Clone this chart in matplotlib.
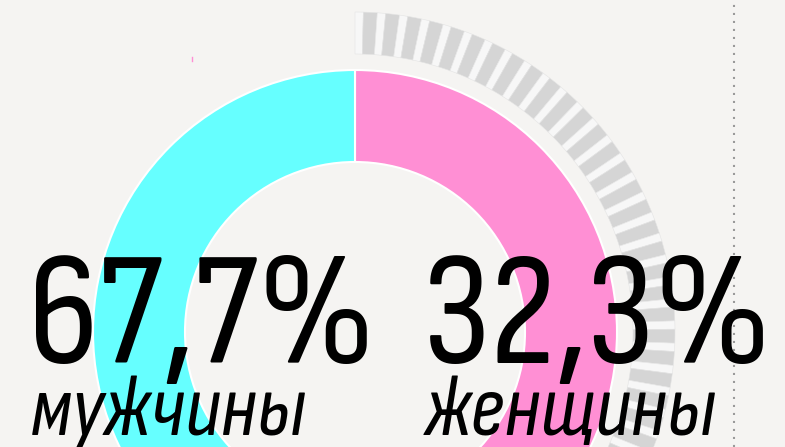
import matplotlib
matplotlib.use("Agg")
import matplotlib.pyplot as plt

# data
labels = ["женщины", "мужчины"]
share_text = ["32,3%", "67,7%"]
colors = ["#ff8fd4", "#66ffff"]
# the ring is drawn as two halves; the lower join is below the crop
ring_split = [50, 50]
stripe_count = 45          # grey ticks along the pink half
stripe_gap, stripe_bar = 1.5, 2.5

W, H = 785, 447
bg = "#f5f4f2"
font = ["Sofia Sans Condensed", "Roboto Condensed", "DejaVu Sans"]

fig = plt.figure(figsize=(W / 100, H / 100), dpi=100, facecolor=bg)
ax = fig.add_axes([0, 0, 1, 1])
ax.set_facecolor(bg)

cx, cy = 355, H - 332
R, ring = 262, 92

# main donut: pink clockwise from the top, cyan the other side
ax.pie(ring_split, colors=colors, startangle=90, counterclock=False,
       center=(cx, cy), radius=R, frame=True,
       wedgeprops=dict(width=ring, edgecolor="white", linewidth=1.5))

# striped scale outside the pink part
arc = 360 * ring_split[0] / 100
vals = [stripe_gap, stripe_bar] * stripe_count
scale = arc / sum(vals)
vals = [v * scale for v in vals]
vals.append(360 - sum(vals))
stripe_cols = ["#f7f7f7", "#d5d5d5"] * stripe_count + ["none"]
wedges, _ = ax.pie(vals, colors=stripe_cols, startangle=90, counterclock=False,
                   center=(cx, cy), radius=320, frame=True,
                   wedgeprops=dict(width=42, edgecolor="#e4e4e4", linewidth=0.4))
wedges[-1].set_edgecolor("none")

# dotted divider on the right and the stray pink tick
ax.axvline(734, color="#9a9a9a", lw=1.5, linestyle=(0, (1, 2.84)))
ax.plot([191.5, 191.5], [H - 57, H - 61], color=colors[0], lw=1)

# big numbers and captions
for x, num, lab in [(28, share_text[1], labels[1]), (423, share_text[0], labels[0])]:
    ax.text(x, H - 362.5, num, fontsize=116, family=font, weight="light",
            color="black", va="baseline", ha="left", zorder=5)
    ax.text(x + 2, H - 435, lab, fontsize=63, family=font, style="italic",
            weight="light", color="black", va="baseline", ha="left", zorder=5)

ax.set_xlim(0, W)
ax.set_ylim(0, H)
ax.set_aspect("auto")
ax.axis("off")
fig.savefig("out.png", dpi=100, facecolor=bg)
